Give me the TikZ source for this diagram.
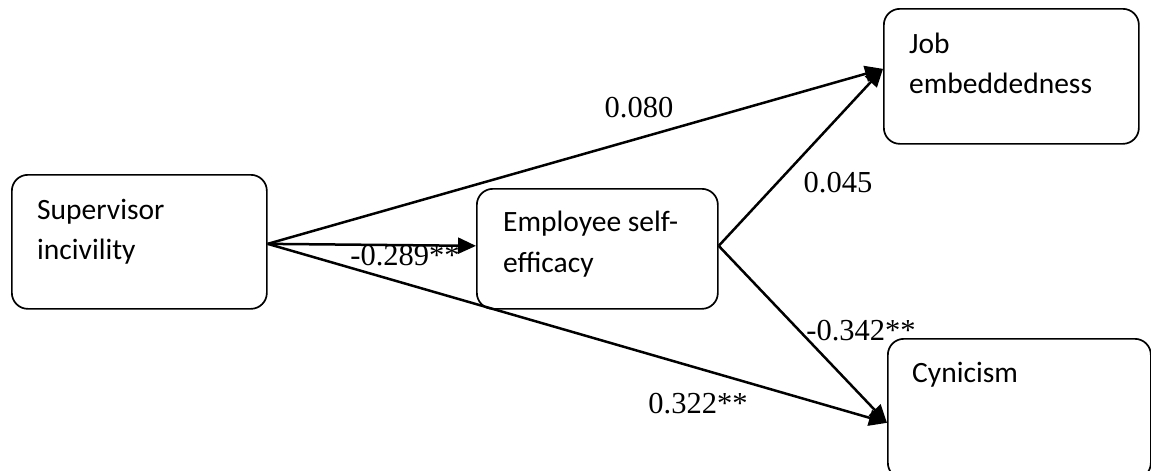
\documentclass[tikz,border=0pt]{standalone}
\usepackage{fontspec}
\setmainfont{Liberation Serif}
\newfontfamily\boxfont{Carlito}
\usetikzlibrary{arrows.meta}
\tikzset{
  box/.style={draw, line width=1.7pt, rounded corners=16pt, anchor=north west, inner sep=0pt},
  boxtxt/.style={anchor=base west, inner sep=0pt, font=\boxfont\fontsize{29.5}{35}\selectfont},
  coef/.style={anchor=base, inner sep=0pt, font=\fontsize{30.5}{36}\selectfont},
  path/.style={line width=2.5pt, -{Triangle[length=18pt,width=16pt]}},
}
\begin{document}
\begin{tikzpicture}[x=1pt,y=-1pt]
\useasboundingbox (0,0) rectangle (1151,471);
% boxes
\node[box, minimum width=255pt, minimum height=134pt] (sup) at (11,174) {};
\node[box, minimum width=241pt, minimum height=120pt] (emp) at (476,188) {};
\node[box, minimum width=255pt, minimum height=135pt] (job) at (883,8) {};
\node[box, minimum width=263pt, minimum height=140pt] (cyn) at (887,338) {};
% box texts
\node[boxtxt] (t1) at (37,219) {Supervisor};
\node[boxtxt] (t2) at (37,259) {incivility};
\node[boxtxt] (t3) at (503,231) {Employee self-};
\node[boxtxt] (t4) at (503,272) {efficacy};
\node[boxtxt] (t5) at (909,53) {Job};
\node[boxtxt] (t6) at (909,93) {embeddedness};
\node[boxtxt] (t7) at (912,382) {Cynicism};
% connectors
\draw[path] ([yshift=-2pt]sup.east) -- ([yshift=7.5pt]job.west);
\draw[path] ([yshift=-2pt]sup.east) -- ([yshift=3pt]emp.west);
\draw[path] ([yshift=-2pt]sup.east) -- ([yshift=-14pt]cyn.west);
\draw[path] ([yshift=3pt]emp.east) -- ([yshift=7.5pt]job.west);
\draw[path] ([yshift=3pt]emp.east) -- ([yshift=-14pt]cyn.west);
% coefficients
\node[coef] (c1) at (639,117) {0.080};
\node[coef] (c2) at (405,265) {-0.289**};
\node[coef] (c3) at (838,192) {0.045};
\node[coef] (c4) at (861,340) {-0.342**};
\node[coef] (c5) at (698,413) {0.322**};
\end{tikzpicture}
\end{document}
